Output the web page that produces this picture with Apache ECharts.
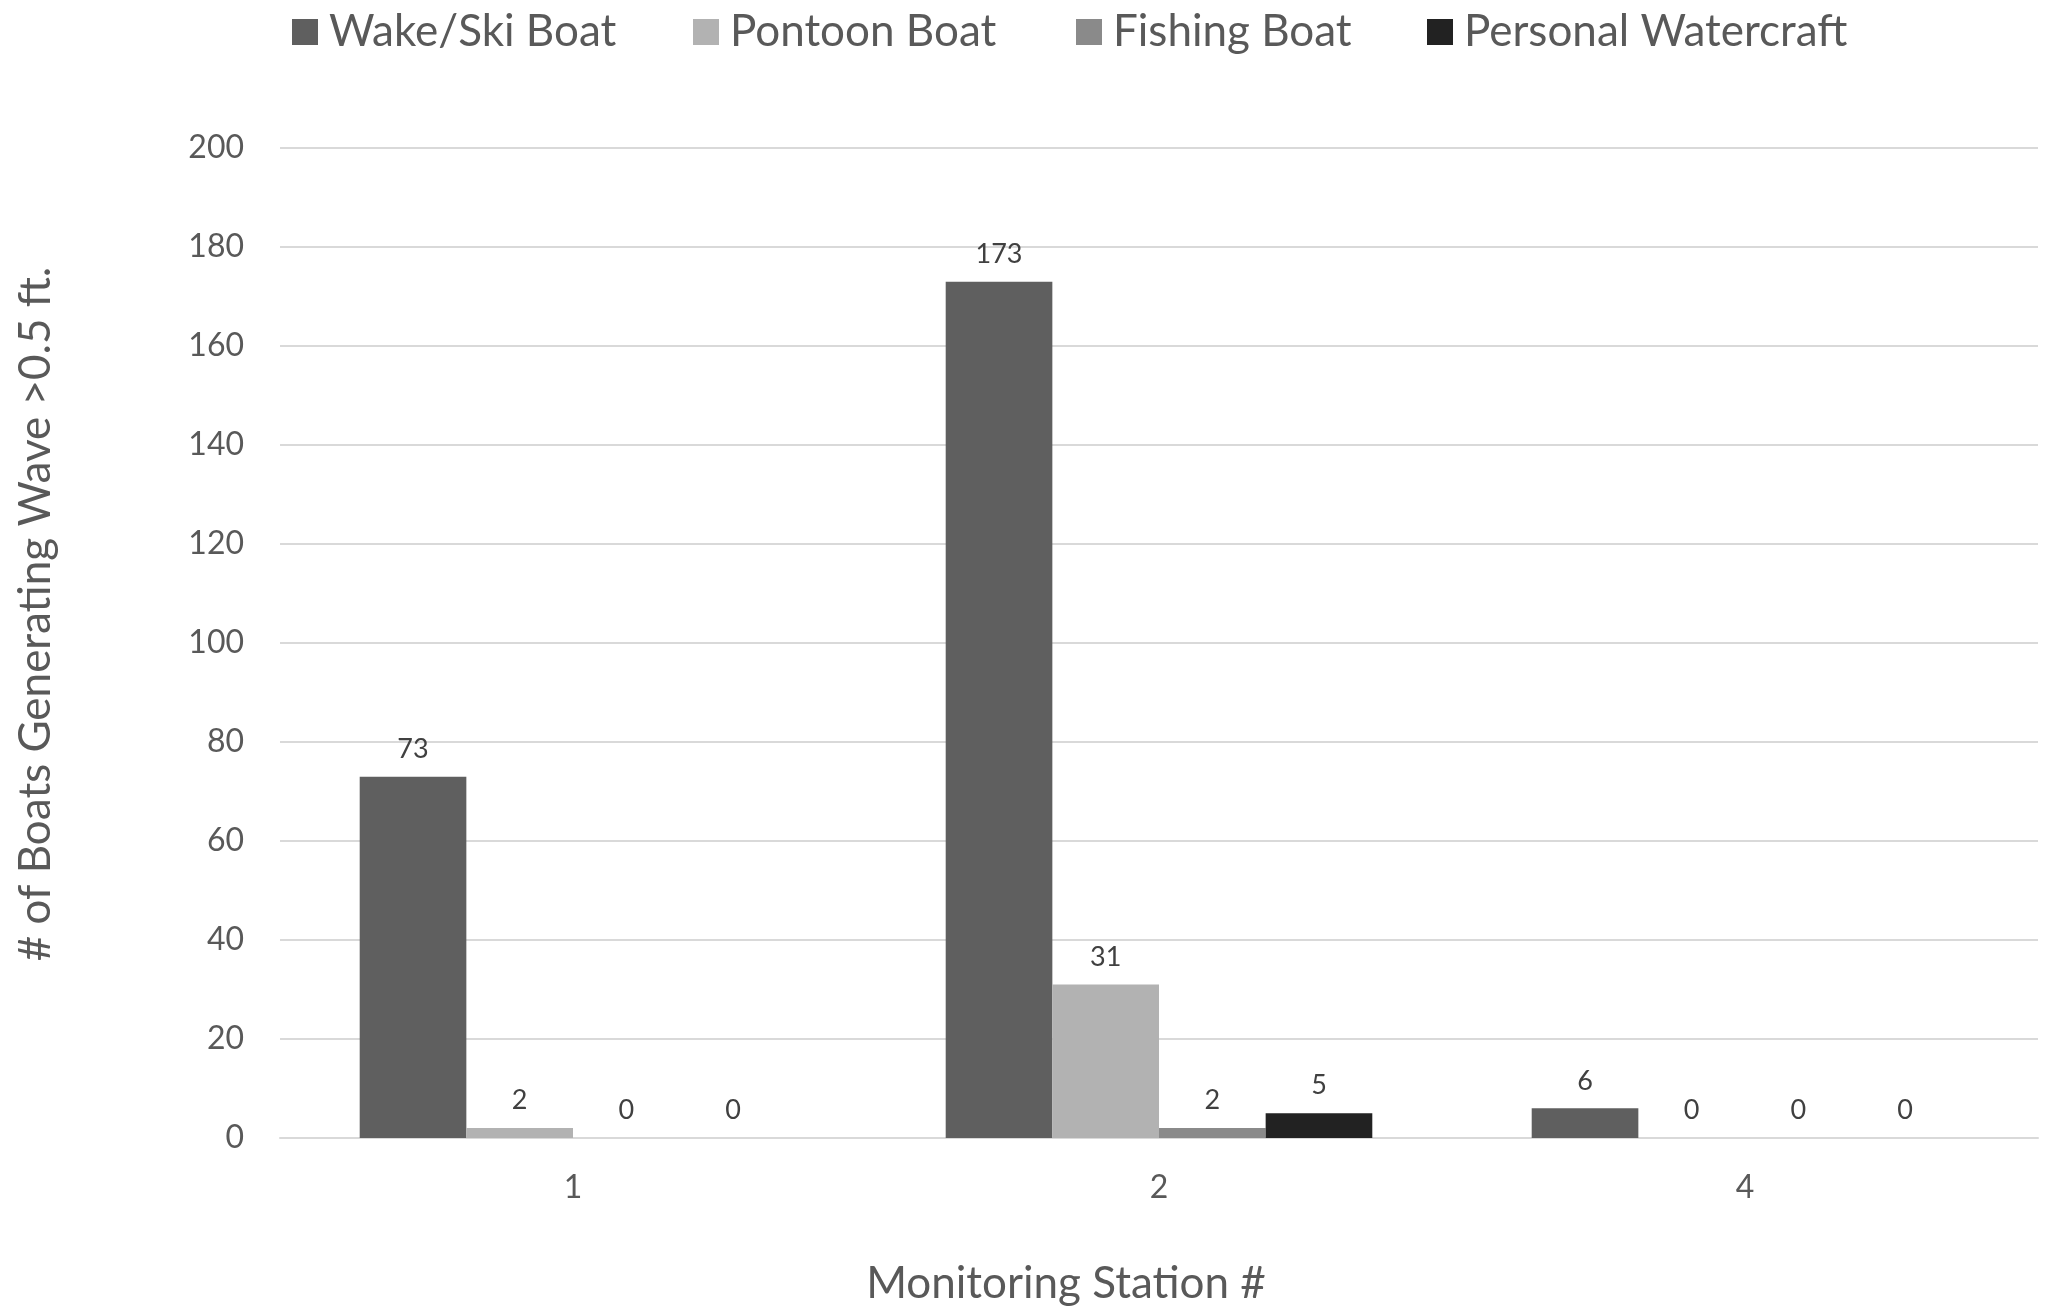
<!DOCTYPE html>
<html>
<head>
<meta charset="utf-8">
<title>Boats Generating Wave &gt;0.5 ft by Monitoring Station</title>
<script src="https://cdn.jsdelivr.net/npm/echarts@6/dist/echarts.min.js"></script>
<style>
  html, body { margin: 0; padding: 0; background: #ffffff; }
  #chart { width: 2048px; height: 1312px; }
</style>
</head>
<body>
<div id="chart"></div>
<script>
// Monitoring stations along the x axis
const stations = ['1', '2', '4'];

// Boat counts per station, one array per boat type
const wakeSki = [73, 173, 6];
const pontoon = [2, 31, 0];
const fishing = [0, 2, 0];
const watercraft = [0, 5, 0];

const seriesNames = ['Wake/Ski Boat', 'Pontoon Boat', 'Fishing Boat', 'Personal Watercraft'];
const seriesData = [wakeSki, pontoon, fishing, watercraft];
const seriesColors = ['#5f5f5f', '#b2b2b2', '#8a8a8a', '#222222'];

// Y axis ticks
const yMin = 0, yMax = 200, yStep = 20;

const FONT = 'Lato';
const TEXT = '#595959';

const chart = echarts.init(document.getElementById('chart'), null, { renderer: 'canvas' });

// one legend box per series so each entry sits at its own spot across the top
const legendLeft = [287, 688, 1071, 1422];
const legends = seriesNames.map((name, i) => ({
  data: [name],
  left: legendLeft[i],
  top: 5,
  icon: 'rect',
  itemWidth: 26,
  itemHeight: 26,
  textStyle: { fontFamily: FONT, fontSize: 44, color: TEXT, padding: [0, 0, 0, 6] },
  selectedMode: false
}));

chart.setOption({
  backgroundColor: '#ffffff',
  animation: false,
  textStyle: { fontFamily: FONT },
  legend: legends,
  grid: { left: 280, right: 10, top: 148, bottom: 174, containLabel: false },
  xAxis: {
    type: 'category',
    data: stations,
    name: 'Monitoring Station #',
    nameLocation: 'middle',
    nameGap: 124,
    // right padding pulls the title left of the plot centre
    nameTextStyle: { fontFamily: FONT, fontSize: 44, color: TEXT, padding: [0, 186, 0, 0] },
    axisLine: { show: true, lineStyle: { color: '#d9d9d9', width: 2 } },
    axisTick: { show: false },
    axisLabel: { fontFamily: FONT, fontSize: 32, color: TEXT, margin: 34 }
  },
  yAxis: {
    type: 'value',
    min: yMin,
    max: yMax,
    interval: yStep,
    name: '# of Boats Generating Wave >0.5 ft.',
    nameLocation: 'middle',
    nameGap: 222,
    // left padding lifts the rotated title a little above the plot centre
    nameTextStyle: { fontFamily: FONT, fontSize: 44, color: TEXT, padding: [0, 0, 0, 58] },
    axisLine: { show: false },
    axisTick: { show: false },
    axisLabel: { fontFamily: FONT, fontSize: 32, color: TEXT, margin: 36 },
    splitLine: { lineStyle: { color: '#d9d9d9', width: 2 } }
  },
  series: seriesNames.map((name, i) => ({
    name: name,
    type: 'bar',
    data: seriesData[i],
    barGap: '0%',
    barCategoryGap: '27.2%',
    itemStyle: { color: seriesColors[i] },
    label: {
      show: true,
      position: 'top',
      distance: 14,
      fontFamily: FONT,
      fontSize: 27,
      color: '#404040'
    }
  }))
});
</script>
</body>
</html>
